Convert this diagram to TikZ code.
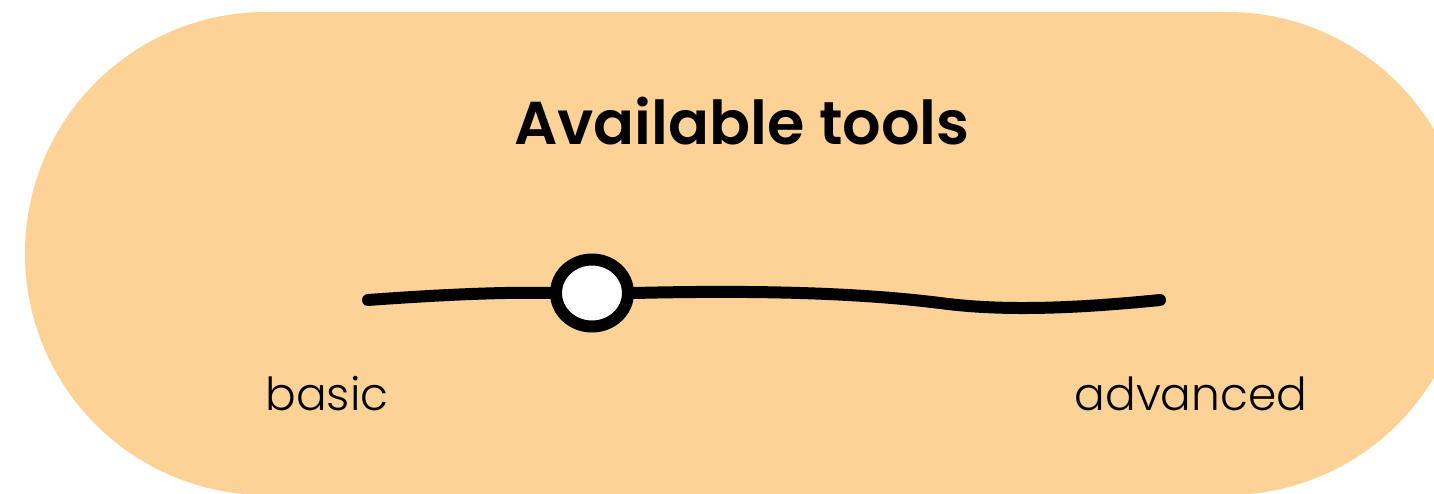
\documentclass[tikz,border=0pt]{standalone}
\usepackage{fontspec}
\setmainfont{Poppins}
\newfontfamily\titlefont{Poppins}[UprightFont=*-SemiBold]
\newfontfamily\labelfont{Poppins}[UprightFont=*-Light]
\usetikzlibrary{shapes.geometric}
\definecolor{pill}{HTML}{FDD296}
\tikzset{
  track/.style={line width=12pt, line cap=round, black},
  knobstyle/.style={ellipse, draw=black, line width=12pt, fill=white, minimum width=72pt, minimum height=67pt, inner sep=0pt},
  lbl/.style={font=\labelfont\fontsize{45.5}{50}\selectfont, anchor=base, inner sep=0pt},
}
\begin{document}
\begin{tikzpicture}[x=1pt,y=-1pt]
\useasboundingbox (0,0) rectangle (1434,494);
\begin{scope}
\clip (0,0) rectangle (1434,494);
\fill[pill, rounded corners=241pt] (25,12) rectangle (1468,495);
\end{scope}
\node[font=\titlefont\fontsize{60.5}{70}\selectfont, anchor=base, inner sep=0pt] (title) at (742,145) {Available tools};
\coordinate (lo) at (368,300);
\coordinate (hi) at (1160,300);
\node[knobstyle] (knob) at (592,293) {};
\draw[track] (lo) .. controls (450,294) and (510,292) .. (knob.west);
\draw[track] (knob.east) .. controls (760,290) and (860,293) .. (940,303) .. controls (1000,311) and (1070,309) .. (hi);
\node[lbl] (basic) at (327,410) {basic};
\node[lbl] (adv) at (1191,410) {advanced};
\end{tikzpicture}
\end{document}
